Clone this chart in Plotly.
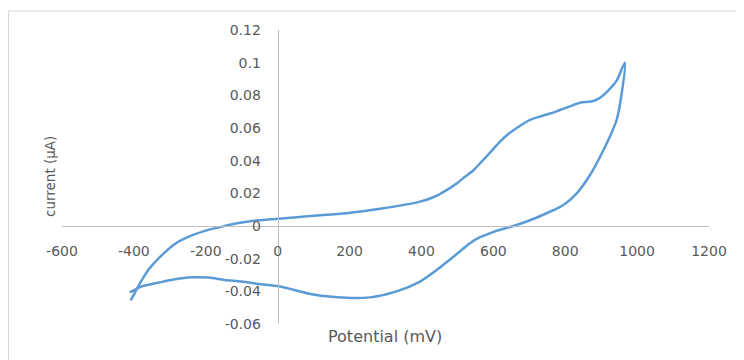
import plotly.graph_objects as go

# Forward (anodic) scan
fwd_x = [-410, -406, -388, -360, -332, -286, -239, -193, -147, -100, -54, 2, 99, 192, 285, 396,
         433, 470, 498, 520, 544, 570, 591, 618, 640, 665, 702, 730, 760, 785, 810, 841, 878,
         900, 920, 943, 966]
fwd_y = [-0.0455, -0.0443, -0.037, -0.027, -0.020, -0.011, -0.0058, -0.0024, 0.0, 0.0021, 0.0035,
         0.0045, 0.0062, 0.0078, 0.0105, 0.0149, 0.0176, 0.022, 0.026, 0.030, 0.034, 0.040, 0.045,
         0.0515, 0.056, 0.060, 0.065, 0.067, 0.069, 0.071, 0.073, 0.0755, 0.0765, 0.079, 0.083,
         0.089, 0.100]
# Reverse (cathodic) scan
rev_x = [966, 957, 943, 924, 897, 869, 832, 795, 748, 702, 656, 609, 590, 563, 535, 510, 489,
         465, 442, 396, 331, 257, 192, 99, 6, -54, -100, -147, -193, -239, -286, -332, -378,
         -406, -412]
rev_y = [0.100, 0.081, 0.0649, 0.0547, 0.0424, 0.0312, 0.020, 0.0129, 0.0078, 0.0035, 0.0,
         -0.0029, -0.0045, -0.0068, -0.0105, -0.0150, -0.0188, -0.023, -0.027, -0.034, -0.040,
         -0.0437, -0.044, -0.042, -0.037, -0.0355, -0.034, -0.033, -0.0316, -0.0314, -0.0326,
         -0.0347, -0.037, -0.040, -0.0405]

x_ticks = [-600, -400, -200, 0, 200, 400, 600, 800, 1000, 1200]
x_tick_text = ["-600", "-400", "-200", "0", "200", "400", "600", "800", "1000", "1200"]
y_ticks = [-0.06, -0.04, -0.02, 0, 0.02, 0.04, 0.06, 0.08, 0.1, 0.12]
y_tick_text = ["-0.06", "-0.04", "-0.02", "0", "0.02", "0.04", "0.06", "0.08", "0.1", "0.12"]

x_range = [-600, 1200]
y_range = [-0.06, 0.12]

x_pos = (0 - y_range[0]) / (y_range[1] - y_range[0])
y_pos = (0 - x_range[0]) / (x_range[1] - x_range[0])

fig = go.Figure()
fig.add_trace(go.Scatter(x=fwd_x + rev_x[1:], y=fwd_y + rev_y[1:], mode="lines",
                         line=dict(color="#5B9BD5", width=2.5, shape="spline", smoothing=0.8),
                         showlegend=False, hoverinfo="skip"))

tick_font = dict(family="DejaVu Sans", size=14, color="#595959")
axis_col = "#BFBFBF"
fig.update_layout(
    width=736, height=352,
    margin=dict(l=54, r=35, t=22, b=36),
    paper_bgcolor="white", plot_bgcolor="white",
    xaxis=dict(range=x_range, tickvals=x_ticks, ticktext=x_tick_text, showgrid=False,
               zeroline=False, showline=True, linecolor=axis_col, linewidth=1,
               anchor="free", position=x_pos, ticks="", ticklabelstandoff=12,
               tickfont=tick_font),
    yaxis=dict(range=y_range, tickvals=y_ticks, ticktext=y_tick_text, showgrid=False,
               zeroline=False, showline=True, linecolor=axis_col, linewidth=1,
               anchor="free", position=y_pos, ticks="", ticklabelstandoff=14,
               tickfont=tick_font),
    annotations=[
        dict(text="current (µA)", xref="paper", yref="paper", x=-0.0185, y=0.5,
             textangle=-90, showarrow=False, xanchor="center", yanchor="middle",
             font=dict(family="DejaVu Sans", size=13.5, color="#595959")),
        dict(text="Potential (mV)", xref="paper", yref="paper", x=0.499, y=-0.044,
             showarrow=False, xanchor="center", yanchor="middle",
             font=dict(family="DejaVu Sans", size=16, color="#595959")),
    ],
    shapes=[dict(type="rect", xref="paper", yref="paper", x0=-0.0827, y0=-0.2, x1=1.1, y1=1.0646,
                 line=dict(color="#D9D9D9", width=1), fillcolor="rgba(0,0,0,0)", layer="below")],
)

fig.write_html("out.html")
